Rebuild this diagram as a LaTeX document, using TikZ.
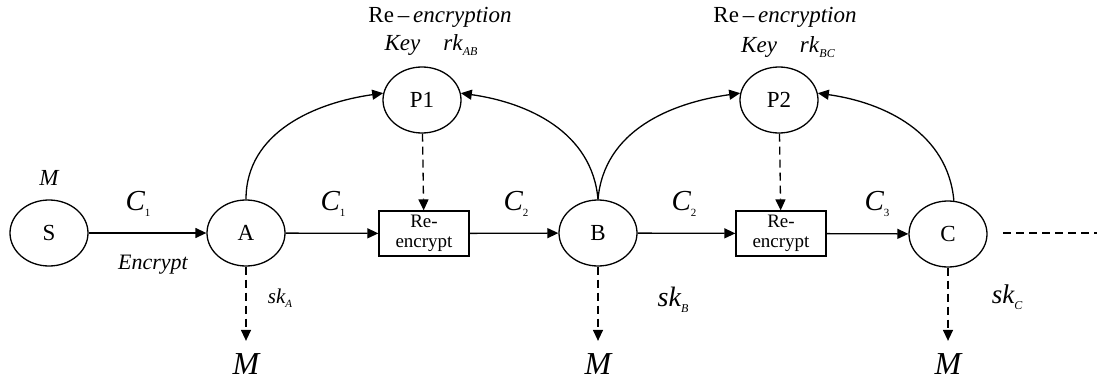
\documentclass[tikz,border=0pt]{standalone}
\usepackage{fontspec}
\setmainfont{Liberation Serif}
\usetikzlibrary{arrows.meta,shapes.geometric}
\newcommand{\subx}[2][11]{\raisebox{-0.45ex}{\fontsize{#1}{#1}\selectfont #2}}
\begin{document}
\begin{tikzpicture}[x=1pt,y=-1pt,line width=1.3pt,
  state/.style={draw,ellipse,minimum width=78pt,minimum height=66pt,inner sep=0pt,font=\fontsize{23}{23}\selectfont},
  rebox/.style={draw,rectangle,minimum width=90pt,minimum height=45pt,inner sep=0pt,align=center,font=\fontsize{19}{20}\selectfont},
  arr/.style={-{Triangle[length=11pt,width=10pt]}},
  dsh/.style={dash pattern=on 8pt off 5pt},
  lbl/.style={inner sep=0pt,font=\fontsize{23}{24}\selectfont}]
\useasboundingbox (0,0) rectangle (1103,380);
% nodes
\node[state] (S) at (49,233) {S};
\node[state] (A) at (246,233) {A};
\node[state] (B) at (598,233) {B};
\node[state] (C) at (948,234) {C};
\node[state] (P1) at (422,100) {P1};
\node[state] (P2) at (779,100) {P2};
\node[rebox] (R1) at (424,233.5) {Re-\\encrypt};
\node[rebox] (R2) at (781,233.5) {Re-\\encrypt};
\coordinate (E) at (1097,233);
\coordinate (Cr) at (1003,233);
\node[lbl] (MA) at (246,364) {\fontsize{32}{32}\selectfont\itshape M};
\node[lbl] (MB) at (598,364) {\fontsize{32}{32}\selectfont\itshape M};
\node[lbl] (MC) at (948,364) {\fontsize{32}{32}\selectfont\itshape M};
% connectors
\draw[arr] (S) -- (A);
\draw[arr] (A) -- (R1);
\draw[arr] (R1) -- (B);
\draw[arr] (B) -- (R2);
\draw[arr] (R2) -- (C);
\draw[dsh] (Cr) -- (E);
\draw[arr] (A.north) to[out=90,in=188] (P1.170);
\draw[arr] (B.north) to[out=95,in=-8] (P1.10);
\draw[arr] (B.north) to[out=85,in=188] (P2.170);
\draw[arr] (C.80) to[out=95,in=-8] (P2.10);
\draw[arr,dsh] (P1) -- (R1);
\draw[arr,dsh] (P2) -- (R2);
\draw[arr,dsh] (A) -- ([yshift=12pt]MA.north);
\draw[arr,dsh] (B) -- ([yshift=12pt]MB.north);
\draw[arr,dsh] (C) -- ([yshift=12pt]MC.north);
% labels
\node[lbl] (lM) at (49,178) {\itshape M};
\node[lbl] (lC1) at (138,204) {\fontsize{29}{29}\selectfont\itshape C\subx{\upshape 1}};
\node[lbl] (lEnc) at (153,265) {\fontsize{22}{22}\selectfont\itshape Encrypt};
\node[lbl] (lC1b) at (333,204) {\fontsize{29}{29}\selectfont\itshape C\subx{\upshape 1}};
\node[lbl] (lC2) at (516,204) {\fontsize{29}{29}\selectfont\itshape C\subx{\upshape 2}};
\node[lbl] (lC2b) at (684,204) {\fontsize{29}{29}\selectfont\itshape C\subx{\upshape 2}};
\node[lbl] (lC3) at (877,204) {\fontsize{29}{29}\selectfont\itshape C\subx{\upshape 3}};
\node[lbl] (lskA) at (280,298) {\fontsize{21}{21}\selectfont\itshape sk\subx[11]{A}};
\node[lbl] (lskB) at (673,300) {\fontsize{28}{28}\selectfont\itshape sk\subx[12]{B}};
\node[lbl] (lskC) at (1007,297) {\fontsize{27}{27}\selectfont\itshape sk\subx[12]{C}};
\node[lbl] (rk1a) at (440,17) {Re\,–\,\textit{encryption}};
\node[lbl] (rk1b) at (431,45) {\textit{Key}\quad\textit{rk}\subx[12]{\itshape AB}};
\node[lbl] (rk2a) at (785,17) {Re\,–\,\textit{encryption}};
\node[lbl] (rk2b) at (788,47) {\textit{Key}\quad\textit{rk}\subx[12]{\itshape BC}};
\end{tikzpicture}
\end{document}
